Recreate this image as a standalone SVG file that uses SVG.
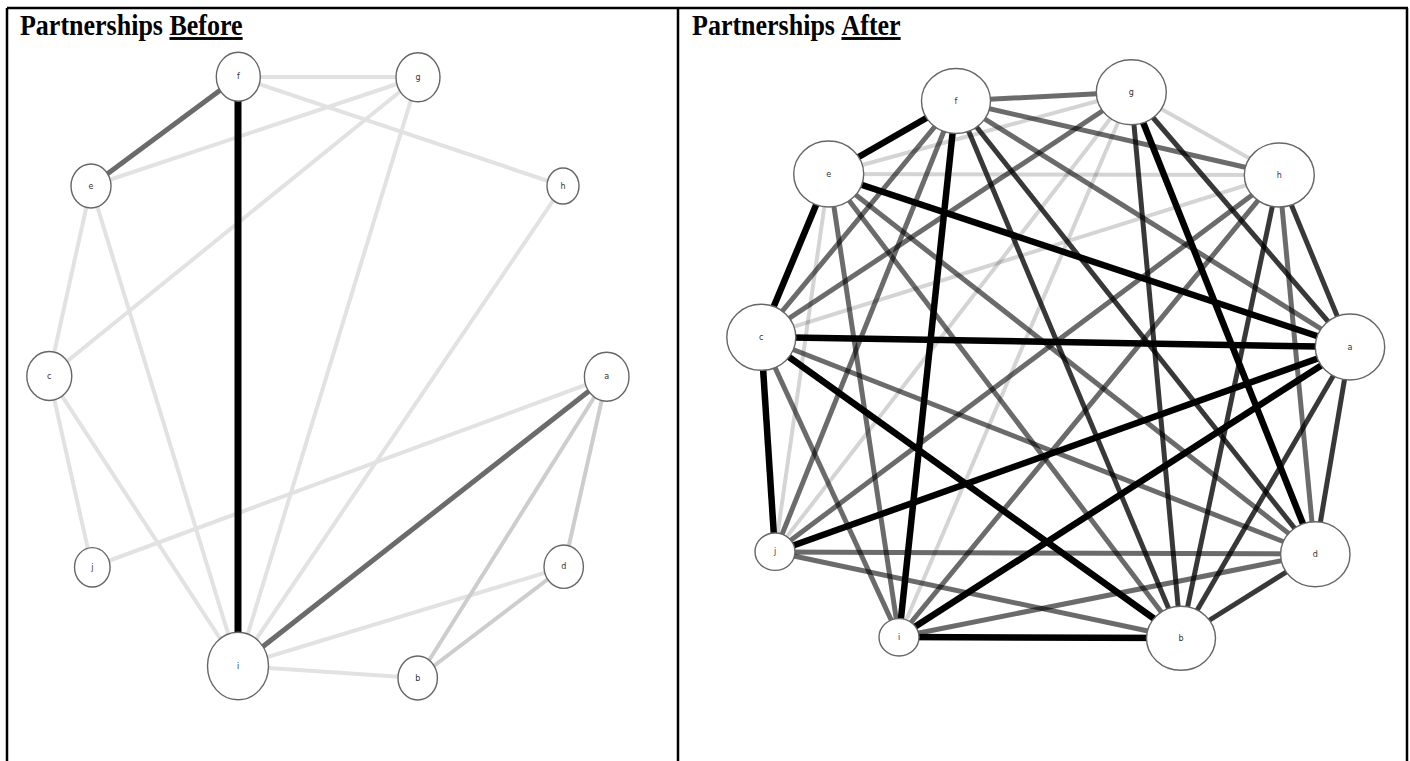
<svg xmlns="http://www.w3.org/2000/svg" width="1410" height="761" viewBox="0 0 1410 761">
  <style>
    .frame { stroke: #000; stroke-width: 2.5; fill: none; }
    .title { font-family: "Liberation Serif", "Times New Roman", serif; font-weight: bold; font-size: 26px; fill: #000; }
    .node ellipse { fill: #fff; stroke: #666; stroke-width: 1.4; }
    .node text { font-family: "DejaVu Sans", "Liberation Sans", sans-serif; font-size: 8px; fill: #333; text-anchor: middle; dominant-baseline: central; }
    .edges line { stroke-linecap: butt; }
    .l-blk { stroke: #000; stroke-width: 7; }
    .l-mid { stroke: #6b6b6b; stroke-width: 5; }
    .l-lt { stroke: #e2e2e2; stroke-width: 4; }
    .l-lt2 { stroke: #cdcdcd; stroke-width: 4; }
    .r-blk { stroke: #000; stroke-width: 6.5; }
    .r-dk { stroke: #000; stroke-opacity: 0.78; stroke-width: 5; }
    .r-md { stroke: #000; stroke-opacity: 0.58; stroke-width: 5; }
    .r-lt { stroke: #000; stroke-opacity: 0.17; stroke-width: 4; }
  </style>

  <!-- table frame -->
  <g id="frame">
    <line class="frame" x1="7" y1="8" x2="1408" y2="8"/>
    <line class="frame" x1="7" y1="8" x2="7" y2="761"/>
    <line class="frame" x1="678" y1="8" x2="678" y2="761"/>
    <line class="frame" x1="1407" y1="8" x2="1407" y2="761"/>
  </g>

  <!-- headings (slightly condensed-tall serif) -->
  <g id="heading-before">
    <text class="title" x="20" y="35" transform="translate(20 35) scale(1 1.1) translate(-20 -35)">Partnerships <tspan text-decoration="underline">Before</tspan></text>
  </g>
  <g id="heading-after">
    <text class="title" x="692" y="35" transform="translate(692 35) scale(1 1.1) translate(-692 -35)">Partnerships <tspan text-decoration="underline">After</tspan></text>
  </g>

  <!-- left network: connectors -->
  <g id="edges-before" class="edges">
    <line class="l-lt" x1="238" y1="77" x2="418" y2="77"/>
    <line class="l-lt" x1="238" y1="77" x2="563" y2="186"/>
    <line class="l-lt" x1="418" y1="77" x2="91" y2="186"/>
    <line class="l-lt" x1="418" y1="77" x2="49" y2="376"/>
    <line class="l-lt" x1="418" y1="77" x2="238" y2="666"/>
    <line class="l-lt" x1="91" y1="186" x2="49" y2="376"/>
    <line class="l-lt" x1="91" y1="186" x2="238" y2="666"/>
    <line class="l-lt" x1="49" y1="376" x2="92" y2="567"/>
    <line class="l-lt" x1="49" y1="376" x2="238" y2="666"/>
    <line class="l-lt" x1="92" y1="567" x2="607" y2="377"/>
    <line class="l-lt" x1="563" y1="186" x2="238" y2="666"/>
    <line class="l-lt" x1="238" y1="666" x2="564" y2="567"/>
    <line class="l-lt" x1="238" y1="666" x2="418" y2="678"/>
    <line class="l-lt2" x1="607" y1="377" x2="418" y2="678"/>
    <line class="l-lt2" x1="607" y1="377" x2="564" y2="567"/>
    <line class="l-lt2" x1="564" y1="567" x2="418" y2="678"/>
    <line class="l-mid" x1="238" y1="77" x2="91" y2="186"/>
    <line class="l-mid" x1="607" y1="377" x2="238" y2="666"/>
    <line class="l-blk" x1="238" y1="77" x2="238" y2="666"/>
  </g>

  <!-- left network: nodes -->
  <g id="before-f" class="node"><ellipse cx="238.3" cy="76.7" rx="22" ry="24.5"/><text x="238.3" y="76.7">f</text></g>
  <g id="before-g" class="node"><ellipse cx="418" cy="77.3" rx="22" ry="24.5"/><text x="418" y="77.3">g</text></g>
  <g id="before-e" class="node"><ellipse cx="91" cy="186" rx="20" ry="22"/><text x="91" y="186">e</text></g>
  <g id="before-h" class="node"><ellipse cx="563" cy="186" rx="16" ry="18"/><text x="563" y="186">h</text></g>
  <g id="before-c" class="node"><ellipse cx="49.3" cy="376" rx="22.5" ry="24.5"/><text x="49.3" y="376">c</text></g>
  <g id="before-a" class="node"><ellipse cx="606.7" cy="376.7" rx="22.3" ry="24.5"/><text x="606.7" y="376.7">a</text></g>
  <g id="before-j" class="node"><ellipse cx="92.3" cy="567.3" rx="17.8" ry="19.7"/><text x="92.3" y="567.3">j</text></g>
  <g id="before-d" class="node"><ellipse cx="563.7" cy="566.7" rx="19.7" ry="21.7"/><text x="563.7" y="566.7">d</text></g>
  <g id="before-i" class="node"><ellipse cx="238" cy="666" rx="30.5" ry="33.8"/><text x="238" y="666">i</text></g>
  <g id="before-b" class="node"><ellipse cx="417.7" cy="678" rx="19.7" ry="22"/><text x="417.7" y="678">b</text></g>

  <!-- right network: connectors -->
  <g id="edges-after" class="edges">
    <!-- weak ties -->
    <line class="r-lt" x1="829" y1="174" x2="1131" y2="92"/>
    <line class="r-lt" x1="829" y1="174" x2="1279" y2="175"/>
    <line class="r-lt" x1="829" y1="174" x2="775" y2="552"/>
    <line class="r-lt" x1="1131" y1="92" x2="1279" y2="175"/>
    <line class="r-lt" x1="1131" y1="92" x2="775" y2="552"/>
    <line class="r-lt" x1="1131" y1="92" x2="899" y2="637"/>
    <line class="r-lt" x1="761" y1="337" x2="1279" y2="175"/>
    <!-- moderate ties -->
    <line class="r-md" x1="956" y1="101" x2="1131" y2="92"/>
    <line class="r-md" x1="956" y1="101" x2="1279" y2="175"/>
    <line class="r-md" x1="956" y1="101" x2="761" y2="337"/>
    <line class="r-md" x1="956" y1="101" x2="775" y2="552"/>
    <line class="r-md" x1="956" y1="101" x2="1350" y2="347"/>
    <line class="r-md" x1="1131" y1="92" x2="761" y2="337"/>
    <line class="r-md" x1="829" y1="174" x2="1315" y2="554"/>
    <line class="r-md" x1="829" y1="174" x2="1181" y2="638"/>
    <line class="r-md" x1="829" y1="174" x2="899" y2="637"/>
    <line class="r-md" x1="761" y1="337" x2="1315" y2="554"/>
    <line class="r-md" x1="761" y1="337" x2="899" y2="637"/>
    <line class="r-md" x1="775" y1="552" x2="1279" y2="175"/>
    <line class="r-md" x1="775" y1="552" x2="1315" y2="554"/>
    <line class="r-md" x1="775" y1="552" x2="1181" y2="638"/>
    <line class="r-md" x1="899" y1="637" x2="1279" y2="175"/>
    <line class="r-md" x1="899" y1="637" x2="1315" y2="554"/>
    <line class="r-md" x1="1279" y1="175" x2="1315" y2="554"/>
    <!-- strong ties -->
    <line class="r-dk" x1="956" y1="101" x2="1315" y2="554"/>
    <line class="r-dk" x1="956" y1="101" x2="1181" y2="638"/>
    <line class="r-dk" x1="1131" y1="92" x2="1181" y2="638"/>
    <line class="r-dk" x1="1131" y1="92" x2="1350" y2="347"/>
    <line class="r-dk" x1="1279" y1="175" x2="1350" y2="347"/>
    <line class="r-dk" x1="1279" y1="175" x2="1181" y2="638"/>
    <line class="r-dk" x1="1350" y1="347" x2="1315" y2="554"/>
    <line class="r-dk" x1="1350" y1="347" x2="1181" y2="638"/>
    <line class="r-dk" x1="1315" y1="554" x2="1181" y2="638"/>
    <!-- strongest ties -->
    <line class="r-blk" x1="956" y1="101" x2="829" y2="174"/>
    <line class="r-blk" x1="829" y1="174" x2="761" y2="337"/>
    <line class="r-blk" x1="761" y1="337" x2="775" y2="552"/>
    <line class="r-blk" x1="829" y1="174" x2="1350" y2="347"/>
    <line class="r-blk" x1="761" y1="337" x2="1350" y2="347"/>
    <line class="r-blk" x1="761" y1="337" x2="1181" y2="638"/>
    <line class="r-blk" x1="1131" y1="92" x2="1315" y2="554"/>
    <line class="r-blk" x1="956" y1="101" x2="899" y2="637"/>
    <line class="r-blk" x1="899" y1="637" x2="1181" y2="638"/>
    <line class="r-blk" x1="775" y1="552" x2="1350" y2="347"/>
    <line class="r-blk" x1="899" y1="637" x2="1350" y2="347"/>
  </g>

  <!-- right network: nodes -->
  <g id="after-f" class="node"><ellipse cx="956" cy="101" rx="34.5" ry="32.5"/><text x="956" y="101">f</text></g>
  <g id="after-g" class="node"><ellipse cx="1131.3" cy="92.3" rx="35" ry="32.5"/><text x="1131.3" y="92.3">g</text></g>
  <g id="after-e" class="node"><ellipse cx="828.7" cy="174" rx="35" ry="33"/><text x="828.7" y="174">e</text></g>
  <g id="after-h" class="node"><ellipse cx="1279.3" cy="175" rx="35" ry="32"/><text x="1279.3" y="175">h</text></g>
  <g id="after-c" class="node"><ellipse cx="761.3" cy="337.3" rx="34.5" ry="33"/><text x="761.3" y="337.3">c</text></g>
  <g id="after-a" class="node"><ellipse cx="1350" cy="347" rx="34.7" ry="33"/><text x="1350" y="347">a</text></g>
  <g id="after-j" class="node"><ellipse cx="775" cy="551.7" rx="20" ry="18.7"/><text x="775" y="551.7">j</text></g>
  <g id="after-d" class="node"><ellipse cx="1315.3" cy="554.3" rx="34.7" ry="32.5"/><text x="1315.3" y="554.3">d</text></g>
  <g id="after-i" class="node"><ellipse cx="899" cy="637.3" rx="20" ry="18.7"/><text x="899" y="637.3">i</text></g>
  <g id="after-b" class="node"><ellipse cx="1181" cy="638.3" rx="34.5" ry="32"/><text x="1181" y="638.3">b</text></g>
</svg>
